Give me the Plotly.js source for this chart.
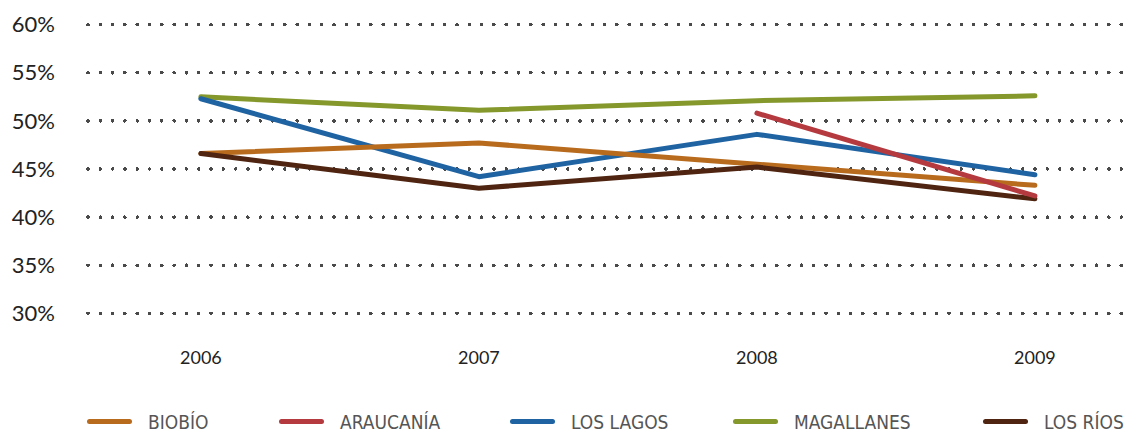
<!DOCTYPE html>
<html>
<head>
<meta charset="utf-8">
<script src="https://cdn.plot.ly/plotly-3.0.1.min.js"></script>
<style>
html,body{margin:0;padding:0;background:#fff;}
#chart{width:1138px;height:434px;}
.gridlayer path{stroke-linecap:round;}
.scatterlayer .js-line{stroke-linecap:round;stroke-linejoin:round;}
.legendlines path{stroke-linecap:round;d:path('M5,0h40');}
</style>
</head>
<body>
<div id="chart"></div>
<script>
const years = ['2006', '2007', '2008', '2009'];
const seriesNames = ['BIOBÍO', 'ARAUCANÍA', 'LOS LAGOS', 'MAGALLANES', 'LOS RÍOS'];
const biobio = [46.6, 47.7, 45.5, 43.3];
const araucania = [null, null, 50.8, 42.2];
const losLagos = [52.3, 44.2, 48.6, 44.4];
const magallanes = [52.5, 51.1, 52.1, 52.6];
const losRios = [46.6, 43.0, 45.2, 41.9];
const yTicks = [30, 35, 40, 45, 50, 55, 60];
const yTickLabels = ['30%', '35%', '40%', '45%', '50%', '55%', '60%'];

const values = [biobio, araucania, losLagos, magallanes, losRios];
const colors = ['#b96b1d', '#b53a40', '#1f63a3', '#84982b', '#4f2410'];
const legendIds = ['legend', 'legend2', 'legend3', 'legend4', 'legend5'];
// drawing order: magallanes, los lagos, biobio, los rios, araucania on top
const order = [3, 2, 0, 4, 1];

const traces = order.map(i => ({
  type: 'scatter', mode: 'lines',
  x: years.map((_, k) => k), y: values[i],
  name: seriesNames[i],
  line: {color: colors[i], width: 5},
  connectgaps: false,
  legend: legendIds[i],
  hoverinfo: 'skip'
}));

const W = 1138, H = 434, ml = 88, mr = 8, mt = 15.4, mb = 111.4;
const pw = W - ml - mr, ph = H - mt - mb;
const legendX = [87, 279, 510, 733, 983];
const legendFont = {family: 'Liberation Sans Narrow, DejaVu Sans Condensed, Roboto, sans-serif', size: 19, color: '#555'};

const layout = {
  width: W, height: H,
  margin: {l: ml, r: mr, t: mt, b: mb, autoexpand: false},
  paper_bgcolor: '#fff', plot_bgcolor: '#fff',
  showlegend: true,
  xaxis: {
    range: [-0.406, 3.342],
    tickvals: [0, 1, 2, 3], ticktext: years,
    showgrid: false, zeroline: false, showline: false, ticks: '',
    ticklabelstandoff: 22,
    tickfont: {family: 'Lato, Open Sans, sans-serif', size: 18, color: '#222'},
    fixedrange: true
  },
  yaxis: {
    range: [29, 61],
    tickvals: yTicks, ticktext: yTickLabels,
    showgrid: true, gridcolor: '#4a4a4a', gridwidth: 3.6, griddash: '0px,12.3px',
    zeroline: false, showline: false, ticks: '',
    ticklabelstandoff: 32,
    tickfont: {family: 'Lato, Open Sans, sans-serif', size: 22, color: '#222'},
    fixedrange: true
  }
};
legendIds.forEach((id, i) => {
  layout[id] = {
    orientation: 'h', x: (legendX[i] + 2.5 - 5 - ml) / pw, xanchor: 'left',
    y: (-mb - 6) / ph, yanchor: 'bottom',
    itemwidth: 53.5,
    font: legendFont, bgcolor: 'rgba(0,0,0,0)', borderwidth: 0
  };
});

Plotly.newPlot('chart', traces, layout, {displayModeBar: false, staticPlot: true});
</script>
</body>
</html>
